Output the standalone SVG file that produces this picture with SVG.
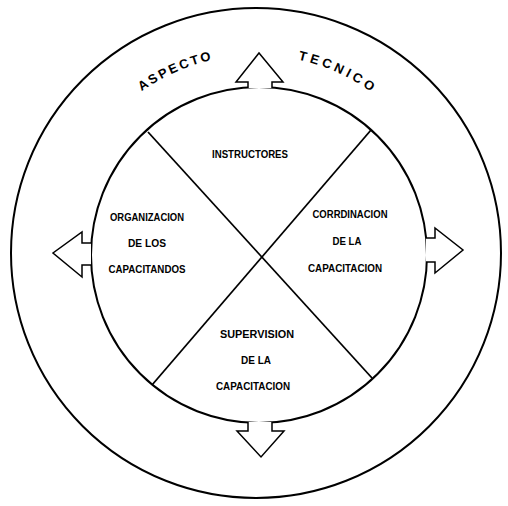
<svg xmlns="http://www.w3.org/2000/svg" width="508" height="506" viewBox="0 0 508 506">
<style>
.ring{fill:none;stroke:#000;stroke-width:2}
.div{stroke:#000;stroke-width:1.8}
.arrow{fill:#fff;stroke:#000;stroke-width:1.5;stroke-linejoin:miter}
.lbl{font-family:"Liberation Sans",Arial,sans-serif;font-size:11px;font-weight:bold;fill:#000;text-anchor:middle}
.arc{font-family:"Liberation Sans",Arial,sans-serif;font-size:13px;font-weight:bold;fill:#000}
</style>
<defs>
<path id="topArc" d="M116,113 A198,198 0 0 1 396,113"/>
</defs>
<rect width="508" height="506" fill="#fff"/>
<g id="outer-ring">
<circle class="ring" cx="256" cy="253" r="245"/>
</g>
<g id="inner-circle">
<circle class="ring" cx="259" cy="255" r="168"/>
</g>
<g id="connectors">
<line class="div" x1="148" y1="132" x2="372" y2="378"/>
<line class="div" x1="371" y1="130" x2="152" y2="385"/>
<polyline id="arrow-up" class="arrow" points="248,88 248,82 236,82 259,53 283,82 272,82 272,88"/>
<polyline id="arrow-left" class="arrow" points="91,243 82,243 82,232 53,253 82,277 82,265 91,265"/>
<polyline id="arrow-right" class="arrow" points="426,238 435,238 435,228 463,250 435,273 435,262 426,262"/>
<polyline id="arrow-down" class="arrow" points="248,422 248,431 237,431 261,457 284,431 272,431 272,422"/>
</g>
<g id="ring-title">
<text class="arc" letter-spacing="2.4"><textPath href="#topArc" startOffset="33.5">ASPECTO</textPath></text>
<text class="arc" letter-spacing="3.6"><textPath href="#topArc" startOffset="197.7">TECNICO</textPath></text>
</g>
<g id="node-instructores">
<text class="lbl" x="250" y="158" textLength="76" lengthAdjust="spacingAndGlyphs">INSTRUCTORES</text>
</g>
<g id="node-organizacion">
<text class="lbl" x="147" y="221" textLength="74" lengthAdjust="spacingAndGlyphs">ORGANIZACION</text>
<text class="lbl" x="147" y="247" textLength="38" lengthAdjust="spacingAndGlyphs">DE LOS</text>
<text class="lbl" x="147" y="273" textLength="77" lengthAdjust="spacingAndGlyphs">CAPACITANDOS</text>
</g>
<g id="node-coordinacion">
<text class="lbl" x="350" y="218" textLength="75" lengthAdjust="spacingAndGlyphs">CORRDINACION</text>
<text class="lbl" x="347" y="245" textLength="29" lengthAdjust="spacingAndGlyphs">DE LA</text>
<text class="lbl" x="345" y="272" textLength="74" lengthAdjust="spacingAndGlyphs">CAPACITACION</text>
</g>
<g id="node-supervision">
<text class="lbl" x="257" y="338" textLength="74" lengthAdjust="spacingAndGlyphs">SUPERVISION</text>
<text class="lbl" x="256" y="364" textLength="30" lengthAdjust="spacingAndGlyphs">DE LA</text>
<text class="lbl" x="253" y="390" textLength="74" lengthAdjust="spacingAndGlyphs">CAPACITACION</text>
</g>
</svg>
